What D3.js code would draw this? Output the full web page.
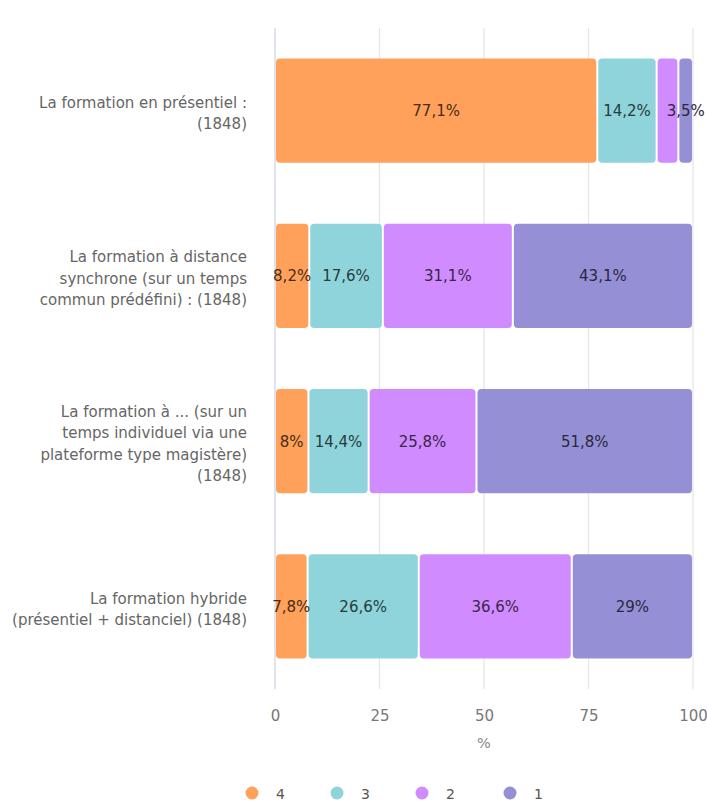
<!DOCTYPE html>
<html>
<head>
<meta charset="utf-8">
<script src="https://cdn.jsdelivr.net/npm/d3@7"></script>
<style>
  body { margin: 0; background: #fff; }
  svg { font-family: "DejaVu Sans", sans-serif; }
</style>
</head>
<body>
<svg id="chart" width="707" height="809"></svg>
<script>
// categories (label lines as they wrap in the picture)
const categories = [
  ["La formation en présentiel :", "(1848)"],
  ["La formation à distance", "synchrone (sur un temps", "commun prédéfini) : (1848)"],
  ["La formation à ... (sur un", "temps individuel via une", "plateforme type magistère)", "(1848)"],
  ["La formation hybride", "(présentiel + distanciel) (1848)"]
];
const seriesNames = ["4", "3", "2", "1"];
const s4 = [77.1, 8.2, 8, 7.8];
const s3 = [14.2, 17.6, 14.4, 26.6];
const s2 = [5.2, 31.1, 25.8, 36.6];
const s1 = [3.5, 43.1, 51.8, 29];
const colors = ["#ffa15a", "#8fd4db", "#d08bff", "#9590d6"];
const xTicks = [0, 25, 50, 75, 100];

const svg = d3.select("#chart");
const plotLeft = 275, plotRight = 693, plotTop = 28, plotBottom = 689;

const x = d3.scaleLinear().domain([0, 100]).range([plotLeft, plotRight]);
const y = d3.scaleBand().domain(d3.range(categories.length)).range([plotTop, plotBottom])
  .paddingInner(0.37).paddingOuter(0.185);

// grid
svg.append("g").selectAll("line").data(xTicks).join("line")
  .attr("x1", d => x(d)).attr("x2", d => x(d))
  .attr("y1", plotTop).attr("y2", plotBottom)
  .attr("stroke", d => d === 0 ? "#cdd2e2" : "#e4e4ea").attr("stroke-width", 1.2);

// x axis labels
const xAxis = svg.append("g").attr("transform", `translate(0,${plotBottom})`)
  .call(d3.axisBottom(x).tickValues(xTicks).tickSize(0).tickPadding(21));
xAxis.select(".domain").remove();
xAxis.selectAll("text").attr("fill", "#777").attr("font-size", 15)
  .attr("font-family", "DejaVu Sans, sans-serif");
svg.append("text").attr("x", x(50)).attr("y", 748).attr("text-anchor", "middle")
  .attr("fill", "#888").attr("font-size", 14.5).text("%");

// y labels
const lineH = 21.5;
categories.forEach((lines, i) => {
  const cy = y(i) + y.bandwidth() / 2;
  const t = svg.append("text").attr("text-anchor", "end").attr("fill", "#666").attr("font-size", 15);
  lines.forEach((ln, j) => {
    t.append("tspan").attr("x", 247)
      .attr("y", cy + (j - (lines.length - 1) / 2) * lineH + 8).text(ln);
  });
});

// stacked bars
const series = [s4, s3, s2, s1];
const rows = categories.map((c, i) => {
  let acc = 0;
  return series.map((s, k) => {
    const seg = { row: i, k, v: s[i], x0: acc, x1: acc + s[i] };
    acc += s[i];
    return seg;
  });
});
const segs = rows.flat();

svg.append("g").selectAll("rect").data(segs).join("rect")
  .attr("x", d => x(d.x0) + 1)
  .attr("width", d => Math.max(0, x(d.x1) - x(d.x0) - 2))
  .attr("y", d => y(d.row))
  .attr("height", y.bandwidth())
  .attr("rx", 4)
  .attr("fill", d => colors[d.k]);

// value labels, skipping ones that collide with the previous shown label
const fmt = v => String(v).replace(".", ",") + "%";
const lg = svg.append("g");
rows.forEach(row => {
  let lastRight = -Infinity;
  row.forEach(d => {
    const cx = (x(d.x0) + x(d.x1)) / 2;
    const t = lg.append("text").attr("x", cx).attr("y", y(d.row) + y.bandwidth() / 2 + 5.5)
      .attr("text-anchor", "middle").attr("font-size", 15)
      .attr("fill", d3.color(colors[d.k]).darker(3.6))
      .text(fmt(d.v));
    const w = t.node().getComputedTextLength();
    if (cx - w / 2 < lastRight) { t.remove(); return; }
    lastRight = cx + w / 2;
  });
});

// legend
const legX = [252, 337, 422, 510];
const leg = svg.append("g").selectAll("g").data(seriesNames).join("g")
  .attr("transform", (d, i) => `translate(${legX[i]},793)`);
leg.append("circle").attr("r", 6.5).attr("fill", (d, i) => colors[i]);
leg.append("text").attr("x", 24).attr("y", 5.5).attr("font-size", 14).attr("fill", "#555").text(d => d);
</script>
</body>
</html>
